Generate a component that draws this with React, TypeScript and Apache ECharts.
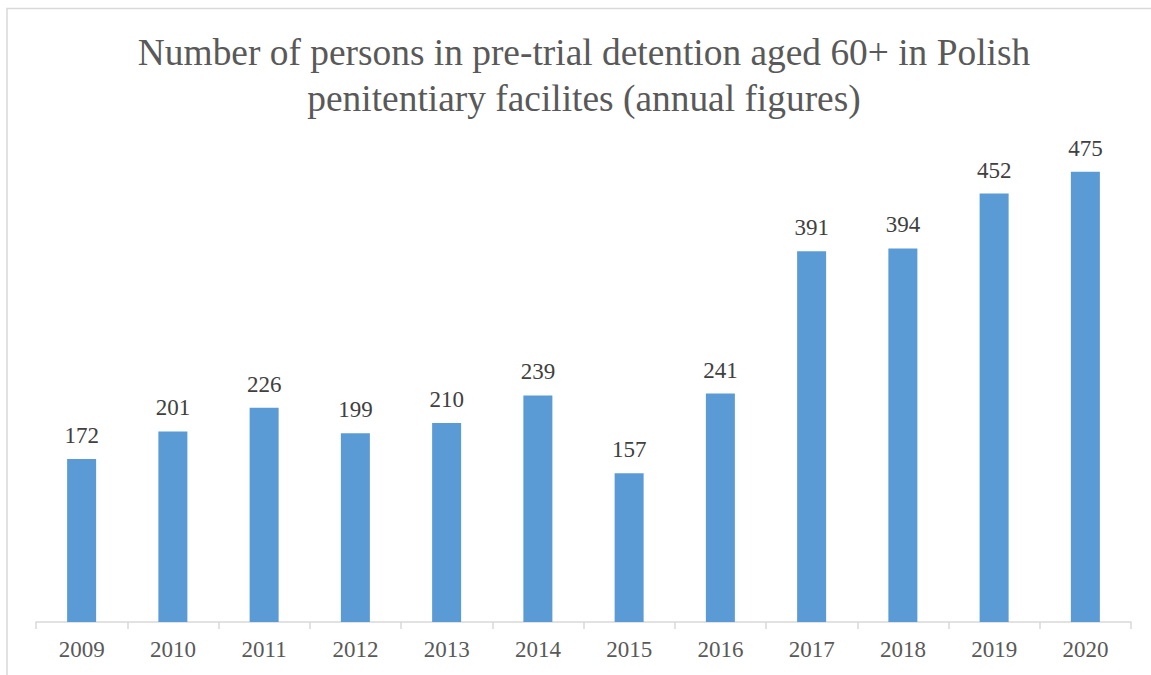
import React, { useEffect, useRef } from "react";
import * as echarts from "echarts";

const categories = ["2009", "2010", "2011", "2012", "2013", "2014", "2015", "2016", "2017", "2018", "2019", "2020"];
const values = [172, 201, 226, 199, 210, 239, 157, 241, 391, 394, 452, 475];
const titleText = "Number of persons in pre-trial detention aged 60+ in Polish\npenitentiary facilites (annual figures)";

export default function App() {
  const ref = useRef<HTMLDivElement>(null);
  useEffect(() => {
    if (!ref.current) return;
    const chart = echarts.init(ref.current, null, { renderer: "svg" });
    chart.setOption({
      animation: false,
      backgroundColor: "#ffffff",
      title: {
        text: titleText,
        left: 579,
        top: 24,
        textAlign: "center",
        textStyle: {
          fontFamily: "Liberation Serif",
          fontSize: 37.4,
          fontWeight: "normal",
          color: "#595959",
          lineHeight: 46,
        },
      },
      graphic: [
        {
          type: "rect",
          shape: { x: 7, y: 8.5, width: 1160, height: 700 },
          style: { fill: "none", stroke: "#d9d9d9", lineWidth: 1.5 },
          silent: true,
        },
      ],
      grid: { left: 36, right: 20, top: 148, bottom: 53 },
      xAxis: {
        type: "category",
        data: categories,
        axisLine: { lineStyle: { color: "#d9d9d9", width: 1.5 } },
        axisTick: { show: true, length: 7, lineStyle: { color: "#d9d9d9", width: 1.5 } },
        axisLabel: {
          fontFamily: "Liberation Serif",
          fontSize: 23,
          color: "#595959",
          margin: 16,
        },
      },
      yAxis: {
        type: "value",
        min: 0,
        max: 500,
        show: false,
        splitLine: { show: false },
      },
      series: [
        {
          type: "bar",
          data: values,
          barWidth: 29,
          itemStyle: { color: "#5b9bd5" },
          label: {
            show: true,
            position: "top",
            distance: 12,
            fontFamily: "Liberation Serif",
            fontSize: 23,
            color: "#404040",
          },
        },
      ],
    });
    return () => chart.dispose();
  }, []);
  return (
    <div
      ref={ref}
      style={{ position: "fixed", left: 0, top: 0, width: 1151, height: 675 }}
    />
  );
}
